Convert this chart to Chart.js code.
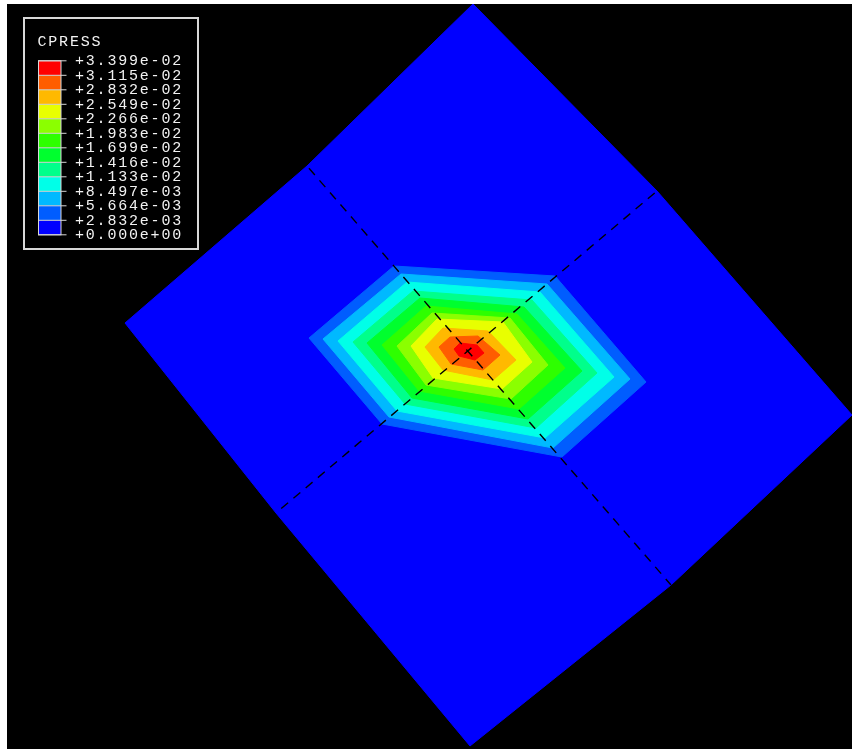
<!DOCTYPE html>
<html>
<head>
<meta charset="utf-8">
<style>
html,body{margin:0;padding:0;background:#fff;overflow:hidden}
#wrap{position:absolute;left:7px;top:4px;width:845px;height:745px;background:#000}
canvas{display:block;filter:blur(0.45px)}
</style>
<script src="https://cdn.jsdelivr.net/npm/chart.js@4/dist/chart.umd.min.js"></script>
</head>
<body>
<div id="wrap"><canvas id="c" width="845" height="745"></canvas></div>
<script>
const legendTitle = "CPRESS";
const tickLabels = ["+3.399e-02","+3.115e-02","+2.832e-02","+2.549e-02","+2.266e-02","+1.983e-02","+1.699e-02","+1.416e-02","+1.133e-02","+8.497e-03","+5.664e-03","+2.832e-03","+0.000e+00"];
const bandColors = ["#ff0000","#ff5d00","#ffb900","#e8ff00","#8bff00","#2eff00","#00ff2e","#00ff8b","#00ffe8","#00b9ff","#005dff","#0000ff"];

// Model outline, clockwise from the top corner; the mid-side nodes sit off the straight corner-to-corner lines
const plate = [[473,4],[657,191],[852,415],[671,585],[470,746],[276,513],[125,323],[307,166]];

// Contour vertices, outermost contour first, one list per hexagon corner
const cornerL  = [[309,338],[323,339],[338,341],[353,342],[367,343],[382,345],[397,346],[411,346],[425,347],[439,347],[454,349]];
const cornerTL = [[394,266],[401,274],[407,282],[413,291],[420,298],[426,306],[432,313],[437,319],[443,328],[450,337],[460,343]];
const cornerTR = [[555,276],[547,284],[540,292],[532,300],[524,307],[517,314],[510,318],[503,322],[488,331],[478,336],[477,345]];
const cornerR  = [[646,382],[630,379],[614,377],[597,373],[582,371],[565,368],[548,365],[532,362],[516,360],[500,355],[484,353]];
const cornerBR = [[562,457],[553,448],[545,438],[536,428],[528,419],[519,409],[511,399],[502,389],[493,380],[483,370],[475,360]];
const cornerBL = [[382,424],[389,417],[397,411],[405,404],[412,398],[419,391],[426,385],[433,378],[443,370],[451,364],[459,356]];

// Element edges (dashed)
const edgeA = [[307,166],[671,585]];
const edgeB = [[657,191],[276,513]];

const pts = a => a.map(p => ({x:p[0], y:p[1]}));
const closed = a => pts(a.concat([a[0]]));
const poly = (a,color) => ({data:closed(a),showLine:true,fill:'shape',backgroundColor:color,borderColor:color,borderWidth:1,pointRadius:0,tension:0});

// Chart.js paints the first dataset last, so the top-most marks come first.
const datasets = [];
[edgeA,edgeB].forEach(e=>datasets.push({data:pts(e),showLine:true,fill:false,borderColor:"#000",borderWidth:1.4,borderDash:[9,7],borderDashOffset:13,pointRadius:0,tension:0}));
for(let i=cornerL.length-1;i>=0;i--){
  datasets.push(poly([cornerL[i],cornerTL[i],cornerTR[i],cornerR[i],cornerBR[i],cornerBL[i]], bandColors[10-i]));
}
datasets.push(poly(plate,"#0000ff"));

const legendPlugin = {
  id:'contourLegend',
  afterDatasetsDraw(chart){
    const {ctx,scales:{x,y}} = chart;
    const X = v => x.getPixelForValue(v), Y = v => y.getPixelForValue(v);
    const top = 60.8, step = 14.5, grey = "#d8d8d8";
    ctx.save();
    ctx.strokeStyle = grey; ctx.lineWidth = 2;
    ctx.strokeRect(X(24),Y(18),X(198)-X(24),Y(249)-Y(18));
    bandColors.forEach((c,i)=>{
      ctx.fillStyle = c;
      ctx.fillRect(X(38.5),Y(top+i*step),22.5,step);
    });
    ctx.strokeStyle = grey; ctx.lineWidth = 1;
    tickLabels.forEach((_,i)=>{
      ctx.beginPath();ctx.moveTo(X(38),Y(top+i*step));ctx.lineTo(X(66.5),Y(top+i*step));ctx.stroke();
    });
    ctx.strokeRect(X(38.5),Y(top),22.5,step*12);
    ctx.fillStyle = "#f2f2f2";
    ctx.textBaseline = "middle"; ctx.textAlign = "left";
    ctx.font = "15px 'Liberation Mono'";
    ctx.letterSpacing = "1.8px";
    tickLabels.forEach((t,i)=>ctx.fillText(t,X(75),Y(top+i*step)+0.5));
    ctx.fillText(legendTitle,X(37.5),Y(42.5));
    ctx.restore();
  }
};

new Chart(document.getElementById('c'),{
  type:'scatter',
  data:{datasets},
  options:{
    responsive:false,animation:false,
    layout:{padding:0},
    plugins:{legend:{display:false},tooltip:{enabled:false}},
    events:[],
    scales:{
      x:{type:'linear',min:7,max:852,display:false},
      y:{type:'linear',min:4,max:749,reverse:true,display:false}
    }
  },
  plugins:[legendPlugin]
});
</script>
</body>
</html>
